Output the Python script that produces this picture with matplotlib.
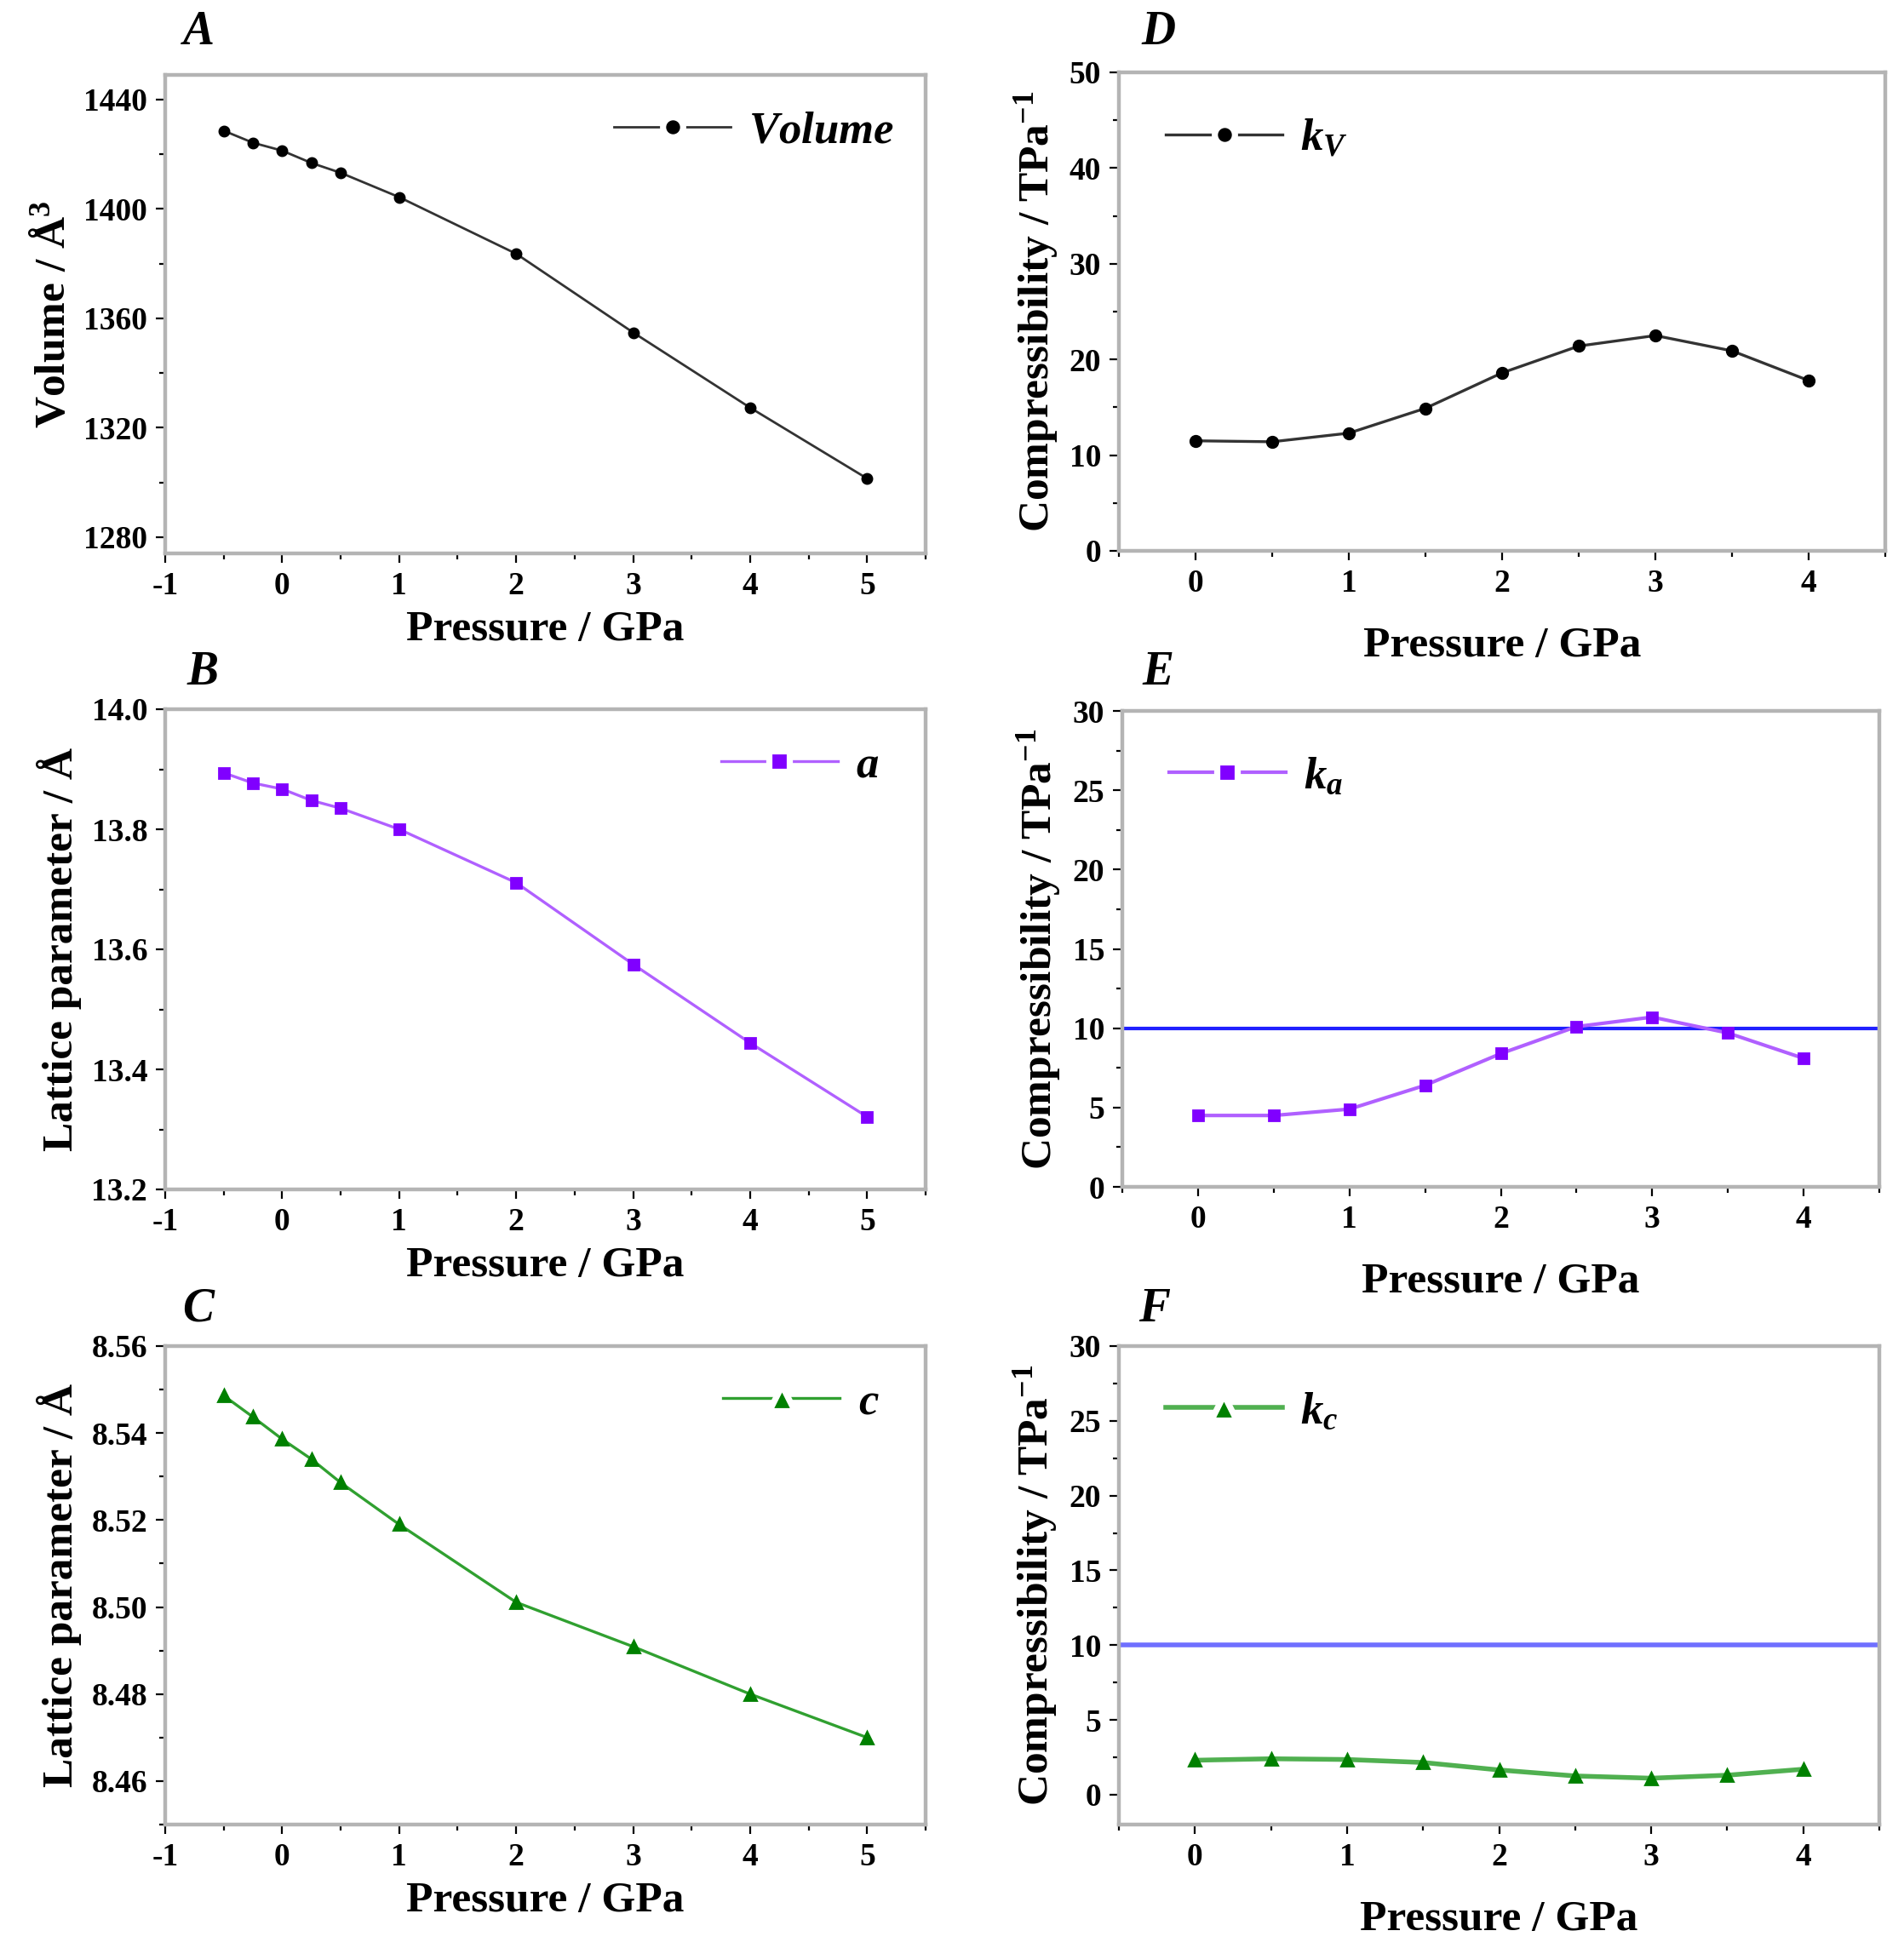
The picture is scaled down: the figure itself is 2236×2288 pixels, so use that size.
import numpy as np
import matplotlib
matplotlib.use('Agg')
import matplotlib.pyplot as plt
from matplotlib.ticker import MultipleLocator, FormatStrFormatter

plt.rcParams.update({
    'font.family': 'serif',
    'font.serif': ['Liberation Serif', 'DejaVu Serif'],
    'font.weight': 'bold',
    'axes.labelweight': 'bold',
    'axes.unicode_minus': False,
    'mathtext.fontset': 'custom',
    'mathtext.rm': 'Liberation Serif:bold',
    'mathtext.it': 'Liberation Serif:italic:bold',
    'mathtext.bf': 'Liberation Serif:bold',
})

# Datos: presión (GPa)
p_lat = [-0.5, -0.25, 0, 0.25, 0.5, 1, 2, 3, 4, 5]
volume = [1428.6, 1424.2, 1421.3, 1416.8, 1413.2, 1404.3, 1383.6, 1354.8, 1327.3, 1301.4]
a_par = [13.894, 13.877, 13.867, 13.848, 13.835, 13.800, 13.711, 13.575, 13.444, 13.321]
c_par = [8.5486, 8.5437, 8.5386, 8.5340, 8.5286, 8.5190, 8.5011, 8.4909, 8.4800, 8.4700]

p_comp = [0, 0.5, 1, 1.5, 2, 2.5, 3, 3.5, 4]
k_v = [11.5, 11.4, 12.3, 14.9, 18.6, 21.4, 22.5, 20.9, 17.8]
k_a = [4.5, 4.5, 4.9, 6.4, 8.4, 10.1, 10.7, 9.7, 8.1]
k_c = [2.3, 2.4, 2.35, 2.15, 1.65, 1.25, 1.1, 1.3, 1.7]

W, H = 2236, 2288
fig = plt.figure(figsize=(W / 200, H / 200), dpi=200)

def box(l, t, r, b):
    return [l / W, 1 - b / H, (r - l) / W, (b - t) / H]

SPINE = '#b4b4b4'
TICK_FS = 13.5
LAB_FS = 18.5

def style(ax):
    for s in ax.spines.values():
        s.set_color(SPINE)
        s.set_linewidth(1.6)
    ax.tick_params(which='both', direction='out', color='black', width=0.8,
                   labelsize=TICK_FS, top=False, right=False)
    ax.tick_params(which='major', length=4)
    ax.tick_params(which='minor', length=2.5)

def legend(ax, loc, anchor, ms=8.5):
    leg = ax.legend(loc=loc, bbox_to_anchor=anchor, frameon=False,
                    fontsize=19, handlelength=2.6, handletextpad=0.4,
                    borderaxespad=0.3)
    # hueco blanco alrededor del marcador, como en el original
    for h in leg.legend_handles:
        h.set_markersize(ms)
        h.set_markeredgecolor('white')
        h.set_markeredgewidth(2.6)
    return leg

# ---- A ----
axA = fig.add_axes(box(194, 88, 1087, 650))
axA.plot(p_lat, volume, color='#333333', lw=1.0, marker='o', ms=4,
         mfc='black', mec='black', label='$Volume$')
axA.set_xlim(-1, 5.5)
axA.set_ylim(1274, 1449)
axA.xaxis.set_major_locator(MultipleLocator(1))
axA.xaxis.set_minor_locator(MultipleLocator(0.5))
axA.yaxis.set_major_locator(MultipleLocator(40))
axA.yaxis.set_minor_locator(MultipleLocator(20))
axA.set_ylabel('Volume / Å$^{3}$', fontsize=LAB_FS)
axA.set_xlabel('Pressure / GPa', fontsize=LAB_FS)
style(axA)
legend(axA, 'upper right', (1.0, 0.99))

# ---- B ----
axB = fig.add_axes(box(194, 833, 1087, 1397))
axB.plot(p_lat, a_par, color='#b060ff', lw=1.2, marker='s', ms=4,
         mfc='#8000ff', mec='#8000ff', label='$a$')
axB.set_xlim(-1, 5.5)
axB.set_ylim(13.2, 14.0)
axB.xaxis.set_major_locator(MultipleLocator(1))
axB.xaxis.set_minor_locator(MultipleLocator(0.5))
axB.yaxis.set_major_locator(MultipleLocator(0.2))
axB.yaxis.set_minor_locator(MultipleLocator(0.1))
axB.yaxis.set_major_formatter(FormatStrFormatter('%.1f'))
axB.set_ylabel('Lattice parameter / Å', fontsize=LAB_FS)
axB.set_xlabel('Pressure / GPa', fontsize=LAB_FS)
style(axB)
legend(axB, 'upper right', (0.98, 0.99))

# ---- C ----
axC = fig.add_axes(box(194, 1581, 1087, 2143))
axC.plot(p_lat, c_par, color='#30a030', lw=1.2, marker='^', ms=5,
         mfc='#008000', mec='#008000', label='$c$')
axC.set_xlim(-1, 5.5)
axC.set_ylim(8.45, 8.56)
axC.xaxis.set_major_locator(MultipleLocator(1))
axC.xaxis.set_minor_locator(MultipleLocator(0.5))
axC.yaxis.set_major_locator(MultipleLocator(0.02))
axC.yaxis.set_minor_locator(MultipleLocator(0.01))
axC.yaxis.set_major_formatter(FormatStrFormatter('%.2f'))
axC.set_ylabel('Lattice parameter / Å', fontsize=LAB_FS)
axC.set_xlabel('Pressure / GPa', fontsize=LAB_FS)
style(axC)
legend(axC, 'upper right', (0.98, 0.99), ms=11)

# ---- D ----
axD = fig.add_axes(box(1314, 85, 2214, 647))
axD.plot(p_comp, k_v, color='#333333', lw=1.2, marker='o', ms=4.5,
         mfc='black', mec='black', label='$k_V$')
axD.set_xlim(-0.5, 4.5)
axD.set_ylim(0, 50)
axD.xaxis.set_major_locator(MultipleLocator(1))
axD.xaxis.set_minor_locator(MultipleLocator(0.5))
axD.yaxis.set_major_locator(MultipleLocator(10))
axD.yaxis.set_minor_locator(MultipleLocator(5))
axD.set_ylabel('Compressibility / TPa$^{-1}$', fontsize=LAB_FS)
axD.set_xlabel('Pressure / GPa', fontsize=LAB_FS, labelpad=12)
style(axD)
legend(axD, 'upper left', (0.02, 0.97))

# ---- E ----
axE = fig.add_axes(box(1318, 835, 2207, 1394))
axE.axhline(10, color='#2020ff', lw=1.5)
axE.plot(p_comp, k_a, color='#b060ff', lw=1.5, marker='s', ms=4.5,
         mfc='#8000ff', mec='#8000ff', label='$k_a$')
axE.set_xlim(-0.5, 4.5)
axE.set_ylim(0, 30)
axE.xaxis.set_major_locator(MultipleLocator(1))
axE.xaxis.set_minor_locator(MultipleLocator(0.5))
axE.yaxis.set_major_locator(MultipleLocator(5))
axE.yaxis.set_minor_locator(MultipleLocator(2.5))
axE.set_ylabel('Compressibility / TPa$^{-1}$', fontsize=LAB_FS)
axE.set_xlabel('Pressure / GPa', fontsize=LAB_FS, labelpad=12)
style(axE)
legend(axE, 'upper left', (0.02, 0.97))

# ---- F ----
axF = fig.add_axes(box(1314, 1581, 2207, 2143))
axF.axhline(10, color='#7070ff', lw=2.0)
axF.plot(p_comp, k_c, color='#50b050', lw=2.0, marker='^', ms=5,
         mfc='#008000', mec='#008000', label='$k_c$')
axF.set_xlim(-0.5, 4.5)
axF.set_ylim(-2, 30)
axF.xaxis.set_major_locator(MultipleLocator(1))
axF.xaxis.set_minor_locator(MultipleLocator(0.5))
axF.yaxis.set_major_locator(MultipleLocator(5))
axF.yaxis.set_minor_locator(MultipleLocator(2.5))
axF.set_ylabel('Compressibility / TPa$^{-1}$', fontsize=LAB_FS)
axF.set_xlabel('Pressure / GPa', fontsize=LAB_FS, labelpad=12)
style(axF)
legend(axF, 'upper left', (0.02, 0.97), ms=11)

# Letras de panel
for letter, x, y in [('A', 233, 38), ('B', 238, 790), ('C', 233, 1538),
                     ('D', 1360, 38), ('E', 1360, 790), ('F', 1356, 1538)]:
    fig.text(x / W, 1 - y / H, letter, fontsize=20, style='italic',
             fontweight='bold', ha='center', va='center')

fig.savefig('out.png', dpi=200, facecolor='white')
